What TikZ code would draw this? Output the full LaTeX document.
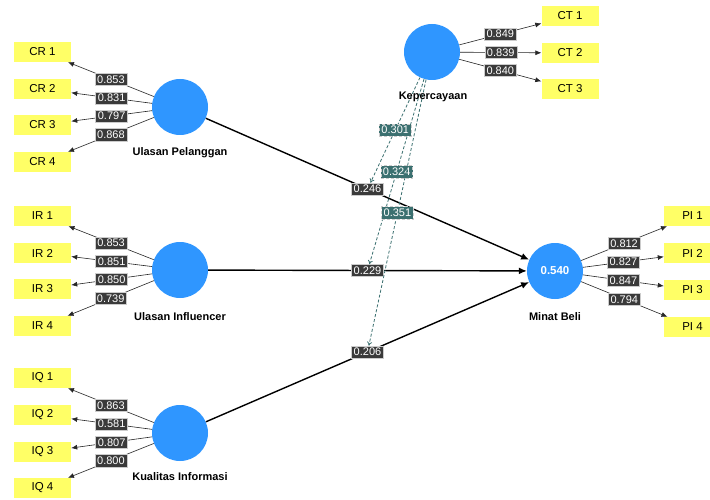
\documentclass[tikz,border=0pt]{standalone}
\usepackage{fontspec}
\setmainfont{Liberation Sans}
\usetikzlibrary{arrows.meta}
\definecolor{lvblue}{HTML}{2F96FF}
\definecolor{indyellow}{HTML}{FFFF66}
\definecolor{coefgray}{HTML}{3A3A3A}
\definecolor{modteal}{HTML}{3B7070}
\begin{document}
\begin{tikzpicture}[x=1pt,y=-1pt,
 lv/.style={circle, fill=lvblue, minimum size=56pt, inner sep=0pt, text=white, font=\bfseries\fontsize{11.5}{13}\selectfont},
 ind/.style={fill=indyellow, minimum width=57pt, minimum height=20pt, inner sep=0pt, font=\fontsize{11.5}{13}\selectfont},
 lvname/.style={font=\bfseries\fontsize{11}{13}\selectfont},
 coef/.style={fill=coefgray, draw=gray!40, line width=0.4pt, text=white, inner xsep=2.2pt, inner ysep=2.2pt, font=\fontsize{11}{12}\selectfont},
 modlab/.style={coef, fill=modteal},
 load/.style={-{Latex[length=6pt,width=5pt]}, line width=0.6pt, draw=black!85},
 struct/.style={-{Latex[length=8pt,width=7pt]}, line width=1.4pt},
 moder/.style={-{To[length=4pt,width=5pt]}, modteal, line width=0.8pt, dash pattern=on 3pt off 2pt}
]
\useasboundingbox (0,0) rectangle (710,500);
\fill[white] (0,0) rectangle (710,500);

% latent variables
\node[lv] (UP) at (180,107) {};
\node[lv] (UI) at (180,270) {};
\node[lv] (KI) at (180,433) {};
\node[lv] (KE) at (432,52) {};
\node[lv] (MB) at (555,271) {0.540};

% indicators
\node[ind] (CR1) at (42.5,52) {CR 1};
\node[ind] (CR2) at (42.5,89) {CR 2};
\node[ind] (CR3) at (42.5,125) {CR 3};
\node[ind] (CR4) at (42.5,162) {CR 4};
\node[ind] (IR1) at (42.5,216) {IR 1};
\node[ind] (IR2) at (42.5,253) {IR 2};
\node[ind] (IR3) at (42.5,289) {IR 3};
\node[ind] (IR4) at (42.5,326) {IR 4};
\node[ind] (IQ1) at (42.5,378) {IQ 1};
\node[ind] (IQ2) at (42.5,415) {IQ 2};
\node[ind] (IQ3) at (42.5,452) {IQ 3};
\node[ind] (IQ4) at (42.5,488) {IQ 4};
\node[ind] (CT1) at (570,16) {CT 1};
\node[ind] (CT2) at (570,53) {CT 2};
\node[ind] (CT3) at (570,89) {CT 3};
\node[ind] (PI1) at (692.5,216) {PI 1};
\node[ind] (PI2) at (692.5,253) {PI 2};
\node[ind] (PI3) at (692.5,290) {PI 3};
\node[ind] (PI4) at (692.5,327) {PI 4};

% loadings
\draw[load] (UP) -- (CR1) node[coef,pos=0.5] (lCR1) {0.853};
\draw[load] (UP) -- (CR2) node[coef,pos=0.5] (lCR2) {0.831};
\draw[load] (UP) -- (CR3) node[coef,pos=0.5] (lCR3) {0.797};
\draw[load] (UP) -- (CR4) node[coef,pos=0.5] (lCR4) {0.868};
\draw[load] (UI) -- (IR1) node[coef,pos=0.5] (lIR1) {0.853};
\draw[load] (UI) -- (IR2) node[coef,pos=0.5] (lIR2) {0.851};
\draw[load] (UI) -- (IR3) node[coef,pos=0.5] (lIR3) {0.850};
\draw[load] (UI) -- (IR4) node[coef,pos=0.5] (lIR4) {0.739};
\draw[load] (KI) -- (IQ1) node[coef,pos=0.5] (lIQ1) {0.863};
\draw[load] (KI) -- (IQ2) node[coef,pos=0.5] (lIQ2) {0.581};
\draw[load] (KI) -- (IQ3) node[coef,pos=0.5] (lIQ3) {0.807};
\draw[load] (KI) -- (IQ4) node[coef,pos=0.5] (lIQ4) {0.800};
\draw[load] (KE) -- (CT1) node[coef,pos=0.5] (lCT1) {0.849};
\draw[load] (KE) -- (CT2) node[coef,pos=0.5] (lCT2) {0.839};
\draw[load] (KE) -- (CT3) node[coef,pos=0.5] (lCT3) {0.840};
\draw[load] (MB) -- (PI1) node[coef,pos=0.5] (lPI1) {0.812};
\draw[load] (MB) -- (PI2) node[coef,pos=0.5] (lPI2) {0.827};
\draw[load] (MB) -- (PI3) node[coef,pos=0.5] (lPI3) {0.847};
\draw[load] (MB) -- (PI4) node[coef,pos=0.5] (lPI4) {0.794};

% structural paths
\draw[struct] (UP) -- (MB) node[coef,pos=0.5] (pUP) {0.246};
\draw[struct] (UI) -- (MB) node[coef,pos=0.5] (pUI) {0.229};
\draw[struct] (KI) -- (MB) node[coef,pos=0.5] (pKI) {0.206};

% moderating effects
\draw[moder] (KE) -- (pUP) node[modlab,pos=0.5] (mUP) {0.301};
\draw[moder] (KE) -- (pUI) node[modlab,pos=0.5] (mUI) {0.324};
\draw[moder] (KE) -- (pKI) node[modlab,pos=0.5] (mKI) {0.351};

% names
\node[lvname] (UPn) at (180,153) {Ulasan Pelanggan};
\node[lvname] (UIn) at (180,317) {Ulasan Influencer};
\node[lvname] (KIn) at (180,477) {Kualitas Informasi};
\node[lvname] (KEn) at (433,97) {Kepercayaan};
\node[lvname] (MBn) at (555,317) {Minat Beli};
\end{tikzpicture}
\end{document}
